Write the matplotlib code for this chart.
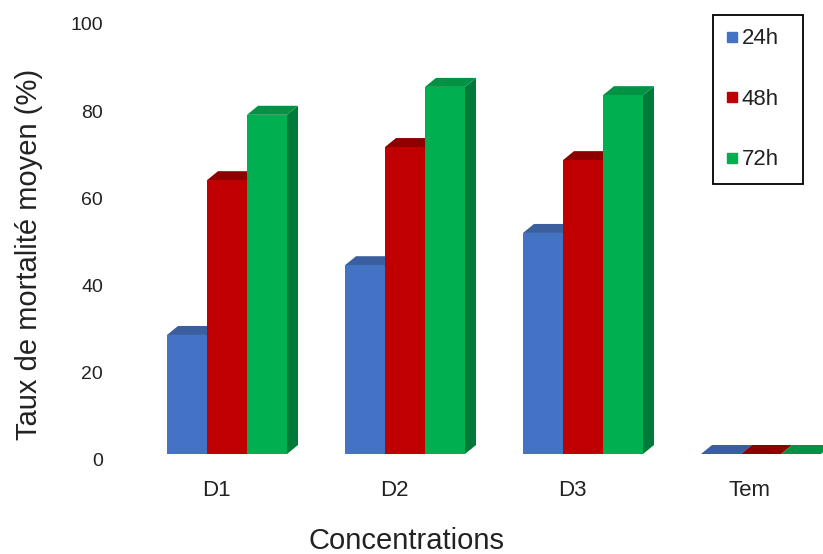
import matplotlib
matplotlib.use("Agg")
import matplotlib.pyplot as plt
from matplotlib.patches import Polygon
from matplotlib.lines import Line2D
from matplotlib.transforms import ScaledTranslation

plt.rcParams['font.family'] = ['Liberation Sans', 'DejaVu Sans']

# Mean mortality (%) per concentration and exposure time
concentrations = ["D1", "D2", "D3", "Tem"]
series_names = ["24h", "48h", "72h"]
mort_24h = [27.3, 43.3, 50.7, 0.0]
mort_48h = [62.8, 70.4, 67.4, 0.0]
mort_72h = [77.8, 84.2, 82.3, 0.0]
series_values = [mort_24h, mort_48h, mort_72h]

# front / top / side colours for each series
front_colors = ["#4472C4", "#C00000", "#00B050"]
top_colors = ["#3A5E9E", "#8E0000", "#009245"]
side_colors = ["#2F4F86", "#7A0000", "#007A38"]

W, H = 823, 554
fig = plt.figure(figsize=(W / 100, H / 100), dpi=100)

# axes box in pixels: value 0 at y=454, value 100 at y=18
ax_left, ax_right = 110, 823
ax_bottom, ax_top = 454, 18
ax = fig.add_axes([ax_left / W, (H - ax_bottom) / H,
                   (ax_right - ax_left) / W, (ax_bottom - ax_top) / H])

group_px = 178.0                     # distance between groups (px)
bar_w = 40 / group_px                # bar width in group units
depth_x = 11 / group_px              # 3D depth, horizontal
depth_y = 9 / ((ax_bottom - ax_top) / 100.0)   # 3D depth, vertical (value units)

first_center_px = 227
ax.set_xlim(-(first_center_px - ax_left) / group_px,
            (ax_right - first_center_px) / group_px)
ax.set_ylim(0, 100)


def draw_bar(x0, v, k):
    side = [(x0 + bar_w, 0), (x0 + bar_w + depth_x, depth_y),
            (x0 + bar_w + depth_x, v + depth_y), (x0 + bar_w, v)]
    top = [(x0, v), (x0 + bar_w, v),
           (x0 + bar_w + depth_x, v + depth_y), (x0 + depth_x, v + depth_y)]
    front = [(x0, 0), (x0 + bar_w, 0), (x0 + bar_w, v), (x0, v)]
    for pts, col in ((side, side_colors[k]), (top, top_colors[k]),
                     (front, front_colors[k])):
        ax.add_patch(Polygon(pts, closed=True, facecolor=col,
                             edgecolor="none", clip_on=False))


for i in range(len(concentrations)):
    for k, vals in enumerate(series_values):
        x0 = i - 1.5 * bar_w + k * bar_w
        draw_bar(x0, vals[i], k)

for s in ax.spines.values():
    s.set_visible(False)

ax.set_yticks([0, 20, 40, 60, 80, 100])
ax.tick_params(axis="y", length=0, pad=5, labelsize=14, labelcolor="#222222")
ax.set_xticks(range(len(concentrations)))
ax.set_xticklabels(concentrations)
ax.tick_params(axis="x", length=0, pad=19, labelsize=16, labelcolor="#222222")

# shift tick labels slightly to sit like the original layout
for lab in ax.get_yticklabels():
    lab.set_transform(lab.get_transform() +
                      ScaledTranslation(0, -6 / 100, fig.dpi_scale_trans))
for lab in ax.get_xticklabels():
    lab.set_transform(lab.get_transform() +
                      ScaledTranslation(-11 / 100, 0, fig.dpi_scale_trans))

fig.text(406 / W, (H - 549) / H, "Concentrations", ha="center",
         va="baseline", fontsize=21, color="#222222")
fig.text(29 / W, (H - 254) / H, "Taux de mortalité moyen (%)", rotation=90,
         ha="center", va="center", fontsize=21, color="#222222")

handles = [Line2D([], [], marker="s", linestyle="none", markersize=7,
                  markerfacecolor=c, markeredgecolor=c) for c in front_colors]
leg = ax.legend(handles, series_names, loc="upper left", mode="expand",
                bbox_to_anchor=(713 / W, (H - 183) / H, 90 / W, 168 / H),
                bbox_transform=fig.transFigure, fontsize=16,
                frameon=True, fancybox=False, framealpha=1,
                edgecolor="black", handlelength=0.5, handletextpad=0.2,
                labelspacing=1.78, borderpad=0.6, borderaxespad=0)
leg.get_frame().set_linewidth(1.3)
for t in leg.get_texts():
    t.set_color("#222222")

fig.savefig("out.png", dpi=100)
